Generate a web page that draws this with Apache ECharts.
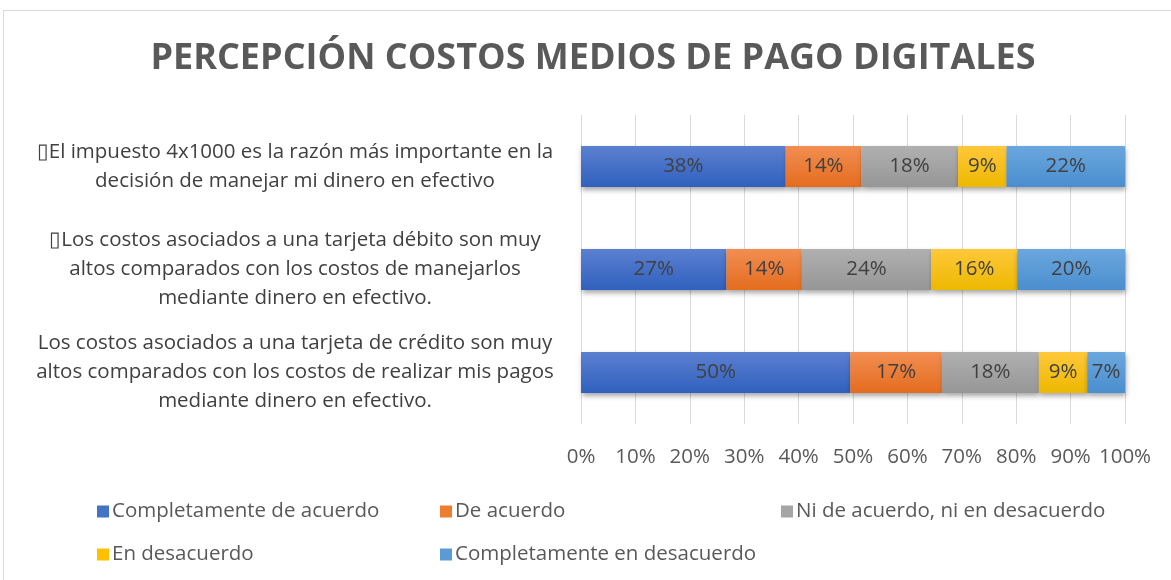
<!DOCTYPE html>
<html>
<head>
<meta charset="utf-8">
<script src="https://cdn.jsdelivr.net/npm/echarts@6/dist/echarts.min.js"></script>
<style>
html,body{margin:0;padding:0;background:#fff;}
#frame{position:absolute;left:3px;top:10px;width:1180px;height:600px;border:1px solid #D9D9D9;box-sizing:border-box;}
#chart{position:absolute;left:0;top:0;width:1171px;height:580px;}
</style>
</head>
<body>
<div id="frame"></div>
<div id="chart"></div>
<script>
const TITLE = 'PERCEPCIÓN COSTOS MEDIOS DE PAGO DIGITALES';
const categories = [
  '\u25AFEl impuesto 4x1000 es la razón más importante en la\ndecisión de manejar mi dinero en efectivo',
  '\u25AFLos costos asociados a una tarjeta débito son muy\naltos comparados con los costos de manejarlos\nmediante dinero en efectivo.',
  'Los costos asociados a una tarjeta de crédito son muy\naltos comparados con los costos de realizar mis pagos\nmediante dinero en efectivo.'
];
const seriesNames = ['Completamente de acuerdo','De acuerdo','Ni de acuerdo, ni en desacuerdo','En desacuerdo','Completamente en desacuerdo'];
const completamenteDeAcuerdo = [38, 27, 50];
const deAcuerdo = [14, 14, 17];
const niDeAcuerdo = [18, 24, 18];
const enDesacuerdo = [9, 16, 9];
const completamenteEnDesacuerdo = [22, 20, 7];
const xTicks = [0,10,20,30,40,50,60,70,80,90,100];

const raw = [completamenteDeAcuerdo, deAcuerdo, niDeAcuerdo, enDesacuerdo, completamenteEnDesacuerdo];
const totals = categories.map((c,i)=>raw.reduce((s,a)=>s+a[i],0));
const colors = [['#5B80D0','#3060BE'],['#F28E52','#E46C1E'],['#B0B0B0','#969696'],['#FFC83A','#EDB800'],['#6BA7DE','#4A8ECF']];
const legendColors = ['#4472C4','#ED7D31','#A5A5A5','#FFC000','#5B9BD5'];
const FONT = 'Open Sans';

const chart = echarts.init(document.getElementById('chart'), null, {renderer:'canvas'});
const series = seriesNames.map((name,k)=>({
  name, type:'bar', stack:'total', barWidth:41,
  data: raw[k].map((v,i)=>({value: v/totals[i]*100, raw: v})),
  itemStyle:{
    color: new echarts.graphic.LinearGradient(0,0,0,1,[{offset:0,color:colors[k][0]},{offset:1,color:colors[k][1]}]),
    shadowColor:'rgba(0,0,0,0.35)', shadowBlur:5, shadowOffsetX:1, shadowOffsetY:3
  },
  label:{show:true, position:'inside', color:'#404040', fontFamily:FONT, fontSize:20.5,
    formatter:p=>p.data.raw+'%'},
  emphasis:{disabled:true}
}));
const legendPos = [[92,496],[435,496],[776,496],[92,539],[435,539]];
const legends = seriesNames.map((n,k)=>({
  data:[{name:n, itemStyle:{color:legendColors[k]}}], left:legendPos[k][0], top:legendPos[k][1],
  icon:'rect', itemWidth:12, itemHeight:12, itemGap:0,
  textStyle:{color:'#595959', fontFamily:FONT, fontSize:20.5, padding:[0,0,0,-2]},
  selectedMode:false
}));
chart.setOption({
  animation:false,
  title:{text:TITLE, left:588, top:36, textAlign:'center',
    textStyle:{color:'#595959', fontFamily:FONT, fontWeight:'bold', fontSize:36}},
  legend: legends,
  grid:{left:581, right:46, top:115, bottom:156},
  xAxis:{type:'value', min:0, max:100, interval:10,
    axisLabel:{formatter:v=>v+'%', color:'#595959', fontFamily:FONT, fontSize:20.5, margin:23},
    axisLine:{show:false}, axisTick:{show:false},
    splitLine:{lineStyle:{color:'#D9D9D9', width:1}}},
  yAxis:{type:'category', data:categories, inverse:true,
    axisLine:{show:false}, axisTick:{show:false},
    axisLabel:{color:'#404040', fontFamily:FONT, fontSize:20.5, lineHeight:29, align:'center', margin:286}},
  series
});
</script>
</body>
</html>
